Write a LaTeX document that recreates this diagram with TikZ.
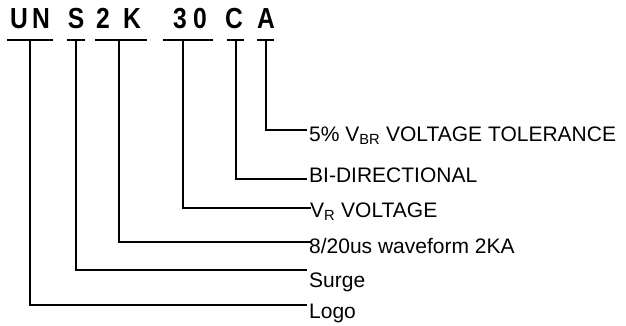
\documentclass[tikz,border=0pt]{standalone}
\usepackage{fontspec}
\setmainfont{Liberation Sans}
\newfontfamily\partfont[FakeStretch=0.85]{Liberation Sans}
\usetikzlibrary{positioning}

\begin{document}
\begin{tikzpicture}[
    x=1pt, y=-1pt,
    letter/.style={font=\partfont\bfseries\fontsize{29}{34}\selectfont, anchor=base, inner sep=0pt},
    desc/.style={font=\fontsize{21}{25}\selectfont, anchor=base west, inner sep=0pt},
    bar/.style={line width=1.5pt},
    lead/.style={line width=1.1pt},
    leadthick/.style={line width=2.2pt}
]
    \useasboundingbox (0,0) rectangle (626,326);

    % part number
    \node[letter] (lU) at (19,29) {U};
    \node[letter] (lN) at (41,29) {N};
    \node[letter] (lS) at (76,29) {S};
    \node[letter] (l2) at (103,29) {2};
    \node[letter] (lK) at (132,29) {K};
    \node[letter] (l3) at (180,29) {3};
    \node[letter] (l0) at (200,29) {0};
    \node[letter] (lC) at (234,29) {C};
    \node[letter] (lA) at (266,29) {A};

    \draw[bar] (7,40) -- (53,40);
    \draw[bar] (67,40) -- (85,40);
    \draw[bar] (95,40) -- (147,40);
    \draw[bar] (163,40) -- (213,40);
    \draw[bar] (227,40) -- (244,40);
    \draw[bar] (257,40) -- (274,40);

    \coordinate (sUN) at (30,40);
    \coordinate (sS) at (76,40);
    \coordinate (s2K) at (119,40);
    \coordinate (s30) at (183,40);
    \coordinate (sC) at (236,40);
    \coordinate (sA) at (266,40);

    % descriptions
    \node[desc] (tol) at (309,141) {5\% V\textsubscript{BR} VOLTAGE TOLERANCE};
    \node[desc] (bidir) at (309,182) {BI-DIRECTIONAL};
    \node[desc] (volt) at (310,217) {V\textsubscript{R} VOLTAGE};
    \node[desc] (wave) at (309,253) {8/20us waveform 2KA};
    \node[desc] (surge) at (309,287) {Surge};
    \node[desc] (logo) at (309,318) {Logo};

    \coordinate (eA) at (307,130);
    \coordinate (eC) at (307,179);
    \coordinate (e30) at (311,208);
    \coordinate (e2K) at (311,242);
    \coordinate (eS) at (307,270);
    \coordinate (eUN) at (307,305);

    \draw[lead] (sA) |- (eA);
    \draw[lead] (sC) |- (eC);
    \draw[lead] (s30) |- (e30);
    \draw[lead] (s2K) |- (e2K);
    \draw[lead] (sS) |- (eS);
    \draw[leadthick] (sUN) |- (eUN);
\end{tikzpicture}
\end{document}
